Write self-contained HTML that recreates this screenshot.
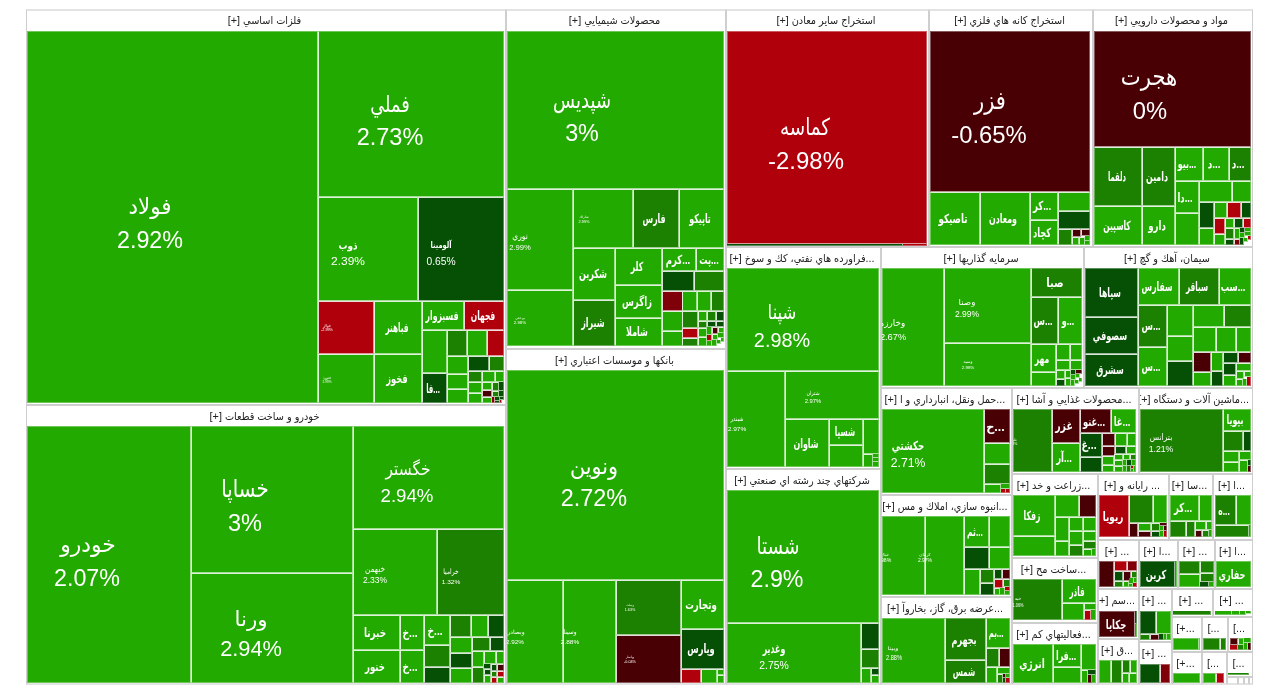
<!DOCTYPE html>
<html lang="fa"><head><meta charset="utf-8"><title>treemap</title>
<style>
html,body{margin:0;padding:0;background:#fff;}
body{width:1280px;height:699px;position:relative;overflow:hidden;font-family:"Liberation Sans","DejaVu Sans Condensed","DejaVu Sans",sans-serif;}
.s{position:absolute;box-sizing:border-box;border:1px solid #cecece;background:#fff;overflow:hidden;}
.h{position:absolute;left:0;right:0;top:0;height:20px;line-height:21px;padding-right:3px;font-size:10.8px;color:#222;text-align:center;white-space:nowrap;overflow:hidden;direction:rtl;}
.c{position:absolute;box-sizing:border-box;border:1px solid rgba(255,255,255,.86);border-right-color:rgba(255,255,255,.6);border-bottom-color:rgba(255,255,255,.6);}
.k{position:absolute;overflow:hidden;}
.t{position:absolute;color:#fff;white-space:nowrap;line-height:1;}
.t.b{font-weight:bold;}
</style></head><body>
<div class="s" style="left:26px;top:9px;width:480px;height:396px;border-top:2px solid #e3e3e3"><div class="h" style="top:-1px">فلزات اساسي [+]</div>
<div class="c" style="left:0px;top:20px;width:291px;height:372px;background:#22aa00;border-left-color:rgba(255,255,255,.35);border-top-color:rgba(255,255,255,.35);border-bottom-color:rgba(255,255,255,.35)"></div>
<div class="c" style="left:291px;top:20px;width:186px;height:166px;background:#22aa00;border-top-color:rgba(255,255,255,.35);border-right-color:rgba(255,255,255,.35)"></div>
<div class="c" style="left:291px;top:186px;width:100px;height:104px;background:#22aa00"></div>
<div class="c" style="left:391px;top:186px;width:86px;height:104px;background:#055005;border-right-color:rgba(255,255,255,.35)"></div>
<div class="c" style="left:291px;top:290px;width:56px;height:53px;background:#b0000c"></div>
<div class="c" style="left:347px;top:290px;width:48px;height:53px;background:#22aa00"></div>
<div class="c" style="left:291px;top:343px;width:56px;height:49px;background:#22aa00;border-bottom-color:rgba(255,255,255,.35)"></div>
<div class="c" style="left:347px;top:343px;width:48px;height:49px;background:#22aa00;border-bottom-color:rgba(255,255,255,.35)"></div>
<div class="c" style="left:395px;top:290px;width:42px;height:29px;background:#22aa00"></div>
<div class="c" style="left:437px;top:290px;width:40px;height:29px;background:#b0000c;border-right-color:rgba(255,255,255,.35)"></div>
<div class="c" style="left:395px;top:319px;width:25px;height:43px;background:#22aa00"></div>
<div class="c" style="left:395px;top:362px;width:25px;height:30px;background:#055005;border-bottom-color:rgba(255,255,255,.35)"></div>
<div class="c" style="left:420px;top:319px;width:20px;height:26px;background:#1c8000"></div>
<div class="c" style="left:440px;top:319px;width:20px;height:26px;background:#22aa00"></div>
<div class="c" style="left:460px;top:319px;width:17px;height:26px;background:#b0000c;border-right-color:rgba(255,255,255,.35)"></div>
<div class="c" style="left:420px;top:345px;width:21px;height:18px;background:#22aa00"></div>
<div class="c" style="left:441px;top:345px;width:21px;height:15px;background:#055005"></div>
<div class="c" style="left:462px;top:345px;width:15px;height:15px;background:#1c8000;border-right-color:rgba(255,255,255,.35)"></div>
<div class="c" style="left:420px;top:363px;width:21px;height:15px;background:#22aa00"></div>
<div class="c" style="left:420px;top:378px;width:21px;height:14px;background:#22aa00;border-bottom-color:rgba(255,255,255,.35)"></div>
<div class="c" style="left:441px;top:360px;width:14px;height:11px;background:#1c8000"></div>
<div class="c" style="left:455px;top:360px;width:13px;height:11px;background:#22aa00"></div>
<div class="c" style="left:468px;top:360px;width:9px;height:11px;background:#22aa00;border-right-color:rgba(255,255,255,.35)"></div>
<div class="c" style="left:441px;top:371px;width:14px;height:11px;background:#22aa00"></div>
<div class="c" style="left:441px;top:382px;width:14px;height:10px;background:#22aa00;border-bottom-color:rgba(255,255,255,.35)"></div>
<div class="c" style="left:455px;top:371px;width:10px;height:8px;background:#22aa00"></div>
<div class="c" style="left:465px;top:371px;width:7px;height:9px;background:#1c8000"></div>
<div class="c" style="left:472px;top:371px;width:5px;height:9px;background:#055005;border-width:0 1px 1px 0;border-right-color:rgba(255,255,255,.35)"></div>
<div class="c" style="left:455px;top:379px;width:10px;height:7px;background:#480004"></div>
<div class="c" style="left:465px;top:380px;width:7px;height:6px;background:#1c8000"></div>
<div class="c" style="left:472px;top:380px;width:5px;height:6px;background:#055005;border-width:0 1px 1px 0;border-right-color:rgba(255,255,255,.35)"></div>
<div class="c" style="left:455px;top:386px;width:10px;height:6px;background:#22aa00;border-bottom-color:rgba(255,255,255,.35)"></div>
<div class="c" style="left:465px;top:386px;width:3px;height:6px;background:#80000a;border-width:0 1px 1px 0;border-bottom-color:rgba(255,255,255,.35)"></div>
<div class="c" style="left:468px;top:386px;width:5px;height:4px;background:#055005;border-width:0 1px 1px 0"></div>
<div class="c" style="left:468px;top:390px;width:5px;height:2px;background:#055005;border-width:0 1px 1px 0;border-bottom-color:rgba(255,255,255,.35)"></div>
<div class="c" style="left:473px;top:386px;width:4px;height:3px;background:#055005;border-width:0 1px 1px 0;border-right-color:rgba(255,255,255,.35)"></div>
<div class="c" style="left:473px;top:389px;width:2px;height:3px;background:#b0000c;border-width:0 1px 1px 0;border-bottom-color:rgba(255,255,255,.35)"></div>
<span class="t" style="left:123.23px;top:230.18px;font-size:23.61px;transform:translate(-50%,-50%) scale(0.988,1.000)">2.92%</span>
<span class="t" style="left:123.47px;top:195.93px;font-size:23.47px;transform:translate(-50%,-50%) scale(1.012,0.943)">فولاد</span>
<span class="t" style="left:362.88px;top:126.45px;font-size:23.96px;transform:translate(-50%,-50%) scale(0.981,1.000)">2.73%</span>
<span class="t" style="left:362.85px;top:93.88px;font-size:23.68px;transform:translate(-50%,-50%) scale(0.833,0.969)">فملي</span>
<span class="t" style="left:320.83px;top:251.02px;font-size:11.46px;transform:translate(-50%,-50%) scale(1.043,1.000)">2.39%</span>
<span class="t b" style="left:320.90px;top:234.68px;font-size:11.59px;transform:translate(-50%,-50%) scale(0.859,0.947)">ذوب</span>
<span class="t" style="left:414.25px;top:250.53px;font-size:10.07px;transform:translate(-50%,-50%) scale(1.019,1.000)">0.65%</span>
<span class="t b" style="left:414.27px;top:234.20px;font-size:9.93px;transform:translate(-50%,-50%) scale(0.754,0.879)">آلومينا</span>
<span class="t" style="left:300.30px;top:320.02px;font-size:3.12px;transform:translate(-50%,-50%) scale(1.200,1.000)">-2.99%</span>
<span class="t" style="left:300.20px;top:314.60px;font-size:3.03px;transform:translate(-50%,-50%) scale(1.284,1.300)">فولاژ</span>
<span class="t b" style="left:369.50px;top:317.00px;font-size:12.5px;transform:translate(-50%,-50%) scale(0.650,1.000)">فباهنر</span>
<span class="t" style="left:300.03px;top:372.07px;font-size:3.16px;transform:translate(-50%,-50%) scale(1.006,1.000)">2.99%</span>
<span class="t" style="left:300.10px;top:366.70px;font-size:3px;transform:translate(-50%,-50%) scale(1.319,1.300)">فنورد</span>
<span class="t b" style="left:369.50px;top:368.00px;font-size:12.5px;transform:translate(-50%,-50%) scale(0.735,1.000)">فخوز</span>
<span class="t b" style="left:414.50px;top:304.75px;font-size:12.5px;transform:translate(-50%,-50%) scale(0.692,1.000)">فسبزوار</span>
<span class="t b" style="left:455.50px;top:304.75px;font-size:12.5px;transform:translate(-50%,-50%) scale(0.665,1.000)">فجهان</span>
<span class="t b" style="left:405.75px;top:377.50px;font-size:12.5px;transform:translate(-50%,-50%) scale(0.615,1.000)">فا...</span>
</div>
<div class="s" style="left:26px;top:405px;width:480px;height:280px;border-bottom:2px solid #e3e3e3"><div class="h">خودرو و ساخت قطعات [+]</div>
<div class="c" style="left:0px;top:20px;width:164px;height:257px;background:#22aa00;border-left-color:rgba(255,255,255,.35);border-top-color:rgba(255,255,255,.35);border-bottom-color:rgba(255,255,255,.35)"></div>
<div class="c" style="left:164px;top:20px;width:162px;height:147px;background:#22aa00;border-top-color:rgba(255,255,255,.35)"></div>
<div class="c" style="left:164px;top:167px;width:162px;height:110px;background:#22aa00;border-bottom-color:rgba(255,255,255,.35)"></div>
<div class="c" style="left:326px;top:20px;width:151px;height:103px;background:#22aa00;border-top-color:rgba(255,255,255,.35);border-right-color:rgba(255,255,255,.35)"></div>
<div class="c" style="left:326px;top:123px;width:84px;height:86px;background:#22aa00"></div>
<div class="c" style="left:410px;top:123px;width:67px;height:86px;background:#1c8000;border-right-color:rgba(255,255,255,.35)"></div>
<div class="c" style="left:326px;top:209px;width:47px;height:35px;background:#22aa00"></div>
<div class="c" style="left:326px;top:244px;width:47px;height:33px;background:#22aa00;border-bottom-color:rgba(255,255,255,.35)"></div>
<div class="c" style="left:373px;top:209px;width:24px;height:35px;background:#22aa00"></div>
<div class="c" style="left:373px;top:244px;width:24px;height:33px;background:#22aa00;border-bottom-color:rgba(255,255,255,.35)"></div>
<div class="c" style="left:397px;top:209px;width:26px;height:30px;background:#22aa00"></div>
<div class="c" style="left:397px;top:239px;width:26px;height:22px;background:#1c8000"></div>
<div class="c" style="left:397px;top:261px;width:26px;height:16px;background:#055005;border-bottom-color:rgba(255,255,255,.35)"></div>
<div class="c" style="left:423px;top:209px;width:21px;height:22px;background:#1c8000"></div>
<div class="c" style="left:444px;top:209px;width:17px;height:22px;background:#22aa00"></div>
<div class="c" style="left:461px;top:209px;width:16px;height:22px;background:#055005;border-right-color:rgba(255,255,255,.35)"></div>
<div class="c" style="left:423px;top:231px;width:22px;height:16px;background:#22aa00"></div>
<div class="c" style="left:445px;top:231px;width:18px;height:14px;background:#1c8000"></div>
<div class="c" style="left:463px;top:231px;width:14px;height:14px;background:#055005;border-right-color:rgba(255,255,255,.35)"></div>
<div class="c" style="left:423px;top:247px;width:22px;height:15px;background:#055005"></div>
<div class="c" style="left:423px;top:262px;width:22px;height:15px;background:#22aa00;border-bottom-color:rgba(255,255,255,.35)"></div>
<div class="c" style="left:445px;top:245px;width:12px;height:16px;background:#22aa00"></div>
<div class="c" style="left:457px;top:245px;width:12px;height:13px;background:#22aa00"></div>
<div class="c" style="left:469px;top:245px;width:8px;height:13px;background:#22aa00;border-right-color:rgba(255,255,255,.35)"></div>
<div class="c" style="left:445px;top:261px;width:12px;height:16px;background:#1c8000;border-bottom-color:rgba(255,255,255,.35)"></div>
<div class="c" style="left:457px;top:258px;width:7px;height:5px;background:#055005;border-width:0 1px 1px 0"></div>
<div class="c" style="left:464px;top:258px;width:6px;height:7px;background:#055005"></div>
<div class="c" style="left:470px;top:258px;width:7px;height:7px;background:#480004;border-right-color:rgba(255,255,255,.35)"></div>
<div class="c" style="left:457px;top:263px;width:7px;height:6px;background:#055005"></div>
<div class="c" style="left:464px;top:265px;width:6px;height:6px;background:#1c8000"></div>
<div class="c" style="left:470px;top:265px;width:7px;height:6px;background:#b0000c;border-right-color:rgba(255,255,255,.35)"></div>
<div class="c" style="left:457px;top:269px;width:7px;height:8px;background:#22aa00;border-bottom-color:rgba(255,255,255,.35)"></div>
<div class="c" style="left:464px;top:271px;width:6px;height:6px;background:#b0000c;border-bottom-color:rgba(255,255,255,.35)"></div>
<div class="c" style="left:470px;top:271px;width:7px;height:6px;background:#22aa00;border-right-color:rgba(255,255,255,.35);border-bottom-color:rgba(255,255,255,.35)"></div>
<span class="t" style="left:60.08px;top:173.08px;font-size:23.61px;transform:translate(-50%,-50%) scale(0.987,1.000)">2.07%</span>
<span class="t" style="left:60.90px;top:139.28px;font-size:23.47px;transform:translate(-50%,-50%) scale(1.032,0.939)">خودرو</span>
<span class="t" style="left:217.53px;top:118.08px;font-size:23.61px;transform:translate(-50%,-50%) scale(0.996,1.000)">3%</span>
<span class="t" style="left:217.55px;top:84.35px;font-size:23.47px;transform:translate(-50%,-50%) scale(0.936,1.030)">خساپا</span>
<span class="t" style="left:223.68px;top:244.32px;font-size:21.52px;transform:translate(-50%,-50%) scale(1.012,1.000)">2.94%</span>
<span class="t" style="left:223.80px;top:212.52px;font-size:21.66px;transform:translate(-50%,-50%) scale(1.095,0.952)">ورنا</span>
<span class="t" style="left:379.78px;top:91.08px;font-size:17.7px;transform:translate(-50%,-50%) scale(1.056,1.000)">2.94%</span>
<span class="t" style="left:380.68px;top:64.35px;font-size:17.91px;transform:translate(-50%,-50%) scale(0.953,0.994)">خگستر</span>
<span class="t" style="left:347.95px;top:175.27px;font-size:9.05px;transform:translate(-50%,-50%) scale(0.940,1.000)">2.33%</span>
<span class="t" style="left:347.92px;top:162.57px;font-size:8.76px;transform:translate(-50%,-50%) scale(0.922,1.096)">خبهمن</span>
<span class="t" style="left:424.23px;top:175.90px;font-size:6.25px;transform:translate(-50%,-50%) scale(1.055,1.000)">1.32%</span>
<span class="t" style="left:424.10px;top:165.78px;font-size:6.31px;transform:translate(-50%,-50%) scale(1.050,1.205)">خراميا</span>
<span class="t b" style="left:347.75px;top:227.00px;font-size:12.5px;transform:translate(-50%,-50%) scale(0.787,1.000)">خبرنا</span>
<span class="t b" style="left:347.75px;top:261.00px;font-size:12.5px;transform:translate(-50%,-50%) scale(0.758,1.000)">خنور</span>
<span class="t b" style="left:383.00px;top:227.00px;font-size:12.5px;transform:translate(-50%,-50%) scale(0.811,1.000)">خ...</span>
<span class="t b" style="left:383.00px;top:261.00px;font-size:12.5px;transform:translate(-50%,-50%) scale(0.811,1.000)">خ...</span>
<span class="t b" style="left:408.25px;top:224.50px;font-size:12.5px;transform:translate(-50%,-50%) scale(0.811,1.000)">خ...</span>
</div>
<div class="s" style="left:506px;top:9px;width:220px;height:340px;border-top:2px solid #e3e3e3"><div class="h" style="top:-1px">محصولات شيميايي [+]</div>
<div class="c" style="left:0px;top:20px;width:217px;height:158px;background:#22aa00;border-left-color:rgba(255,255,255,.35);border-top-color:rgba(255,255,255,.35);border-right-color:rgba(255,255,255,.35)"></div>
<div class="c" style="left:0px;top:178px;width:66px;height:101px;background:#22aa00;border-left-color:rgba(255,255,255,.35)"></div>
<div class="c" style="left:0px;top:279px;width:66px;height:56px;background:#22aa00;border-left-color:rgba(255,255,255,.35);border-bottom-color:rgba(255,255,255,.35)"></div>
<div class="c" style="left:66px;top:178px;width:60px;height:59px;background:#22aa00"></div>
<div class="c" style="left:126px;top:178px;width:46px;height:59px;background:#1c8000"></div>
<div class="c" style="left:172px;top:178px;width:45px;height:59px;background:#22aa00;border-right-color:rgba(255,255,255,.35)"></div>
<div class="c" style="left:66px;top:237px;width:42px;height:52px;background:#22aa00"></div>
<div class="c" style="left:66px;top:289px;width:42px;height:46px;background:#1c8000;border-bottom-color:rgba(255,255,255,.35)"></div>
<div class="c" style="left:108px;top:237px;width:47px;height:37px;background:#22aa00"></div>
<div class="c" style="left:108px;top:274px;width:47px;height:33px;background:#22aa00"></div>
<div class="c" style="left:108px;top:307px;width:47px;height:28px;background:#22aa00;border-bottom-color:rgba(255,255,255,.35)"></div>
<div class="c" style="left:155px;top:237px;width:34px;height:23px;background:#22aa00"></div>
<div class="c" style="left:189px;top:237px;width:28px;height:23px;background:#22aa00;border-right-color:rgba(255,255,255,.35)"></div>
<div class="c" style="left:155px;top:260px;width:32px;height:20px;background:#055005"></div>
<div class="c" style="left:187px;top:260px;width:30px;height:20px;background:#1c8000;border-right-color:rgba(255,255,255,.35)"></div>
<div class="c" style="left:155px;top:280px;width:21px;height:20px;background:#80000a"></div>
<div class="c" style="left:175px;top:280px;width:15px;height:20px;background:#22aa00"></div>
<div class="c" style="left:190px;top:280px;width:14px;height:20px;background:#22aa00"></div>
<div class="c" style="left:204px;top:280px;width:13px;height:20px;background:#1c8000;border-right-color:rgba(255,255,255,.35)"></div>
<div class="c" style="left:155px;top:300px;width:21px;height:20px;background:#22aa00"></div>
<div class="c" style="left:155px;top:320px;width:21px;height:15px;background:#22aa00;border-bottom-color:rgba(255,255,255,.35)"></div>
<div class="c" style="left:175px;top:300px;width:16px;height:17px;background:#1c8000"></div>
<div class="c" style="left:175px;top:317px;width:16px;height:10px;background:#b0000c"></div>
<div class="c" style="left:175px;top:327px;width:16px;height:8px;background:#1c8000;border-bottom-color:rgba(255,255,255,.35)"></div>
<div class="c" style="left:191px;top:300px;width:9px;height:10px;background:#22aa00"></div>
<div class="c" style="left:200px;top:300px;width:9px;height:10px;background:#1c8000"></div>
<div class="c" style="left:209px;top:300px;width:8px;height:10px;background:#055005;border-right-color:rgba(255,255,255,.35)"></div>
<div class="c" style="left:191px;top:310px;width:9px;height:7px;background:#1c8000"></div>
<div class="c" style="left:200px;top:310px;width:9px;height:6px;background:#055005"></div>
<div class="c" style="left:209px;top:310px;width:8px;height:6px;background:#055005;border-right-color:rgba(255,255,255,.35)"></div>
<div class="c" style="left:191px;top:317px;width:9px;height:9px;background:#22aa00"></div>
<div class="c" style="left:200px;top:316px;width:5px;height:8px;background:#22aa00;border-width:0 1px 1px 0"></div>
<div class="c" style="left:205px;top:316px;width:6px;height:7px;background:#480004"></div>
<div class="c" style="left:211px;top:316px;width:6px;height:6px;background:#22aa00;border-right-color:rgba(255,255,255,.35)"></div>
<div class="c" style="left:191px;top:326px;width:9px;height:9px;background:#22aa00;border-bottom-color:rgba(255,255,255,.35)"></div>
<div class="c" style="left:200px;top:324px;width:5px;height:6px;background:#b0000c;border-width:0 1px 1px 0"></div>
<div class="c" style="left:205px;top:323px;width:6px;height:6px;background:#22aa00"></div>
<div class="c" style="left:211px;top:322px;width:6px;height:5px;background:#22aa00;border-width:0 1px 1px 0;border-right-color:rgba(255,255,255,.35)"></div>
<div class="c" style="left:200px;top:330px;width:5px;height:5px;background:#22aa00;border-width:0 1px 1px 0;border-bottom-color:rgba(255,255,255,.35)"></div>
<div class="c" style="left:205px;top:329px;width:5px;height:6px;background:#22aa00;border-width:0 1px 1px 0;border-bottom-color:rgba(255,255,255,.35)"></div>
<div class="c" style="left:210px;top:329px;width:4px;height:4px;background:#22aa00;border-width:0 1px 1px 0"></div>
<div class="c" style="left:214px;top:327px;width:3px;height:4px;background:#22aa00;border-width:0 1px 1px 0;border-right-color:rgba(255,255,255,.35)"></div>
<span class="t" style="left:75.30px;top:123.08px;font-size:23.61px;transform:translate(-50%,-50%) scale(0.988,1.000)">3%</span>
<span class="t" style="left:74.75px;top:89.65px;font-size:23.47px;transform:translate(-50%,-50%) scale(0.853,0.997)">شپديس</span>
<span class="t" style="left:13.45px;top:237.43px;font-size:7.63px;transform:translate(-50%,-50%) scale(0.996,1.000)">2.99%</span>
<span class="t" style="left:13.40px;top:226.10px;font-size:7.69px;transform:translate(-50%,-50%) scale(1.090,1.119)">نوري</span>
<span class="t" style="left:13.05px;top:313.28px;font-size:3.85px;transform:translate(-50%,-50%) scale(1.146,1.000)">2.98%</span>
<span class="t" style="left:13.00px;top:307.65px;font-size:3.69px;transform:translate(-50%,-50%) scale(1.177,0.750)">بوعلي</span>
<span class="t" style="left:76.78px;top:211.50px;font-size:3.48px;transform:translate(-50%,-50%) scale(1.120,1.000)">2.99%</span>
<span class="t" style="left:77.27px;top:206.52px;font-size:3.48px;transform:translate(-50%,-50%) scale(1.083,0.973)">شاراك</span>
<span class="t b" style="left:147.00px;top:207.50px;font-size:12.5px;transform:translate(-50%,-50%) scale(0.684,1.000)">فارس</span>
<span class="t b" style="left:192.75px;top:207.50px;font-size:12.5px;transform:translate(-50%,-50%) scale(0.700,1.000)">تاپيكو</span>
<span class="t b" style="left:85.50px;top:263.00px;font-size:12.5px;transform:translate(-50%,-50%) scale(0.720,1.000)">شكربن</span>
<span class="t b" style="left:85.50px;top:312.25px;font-size:12.5px;transform:translate(-50%,-50%) scale(0.715,1.000)">شيراز</span>
<span class="t b" style="left:130.00px;top:255.75px;font-size:12.5px;transform:translate(-50%,-50%) scale(0.684,1.000)">كلر</span>
<span class="t b" style="left:130.00px;top:290.75px;font-size:12.5px;transform:translate(-50%,-50%) scale(0.766,1.000)">زاگرس</span>
<span class="t b" style="left:130.00px;top:321.25px;font-size:12.5px;transform:translate(-50%,-50%) scale(0.707,1.000)">شاملا</span>
<span class="t b" style="left:170.50px;top:248.75px;font-size:12.5px;transform:translate(-50%,-50%) scale(0.757,1.000)">كرم...</span>
<span class="t b" style="left:201.50px;top:248.75px;font-size:12.5px;transform:translate(-50%,-50%) scale(0.728,1.000)">پت...</span>
</div>
<div class="s" style="left:506px;top:349px;width:220px;height:336px;border-bottom:2px solid #e3e3e3"><div class="h">بانكها و موسسات اعتباري [+]</div>
<div class="c" style="left:0px;top:20px;width:217px;height:210px;background:#22aa00;border-left-color:rgba(255,255,255,.35);border-top-color:rgba(255,255,255,.35);border-right-color:rgba(255,255,255,.35)"></div>
<div class="c" style="left:0px;top:230px;width:56px;height:103px;background:#22aa00;border-left-color:rgba(255,255,255,.35);border-bottom-color:rgba(255,255,255,.35)"></div>
<div class="c" style="left:56px;top:230px;width:53px;height:103px;background:#22aa00;border-bottom-color:rgba(255,255,255,.35)"></div>
<div class="c" style="left:109px;top:230px;width:65px;height:55px;background:#1c8000"></div>
<div class="c" style="left:109px;top:285px;width:65px;height:48px;background:#480004;border-bottom-color:rgba(255,255,255,.35)"></div>
<div class="c" style="left:174px;top:230px;width:43px;height:49px;background:#22aa00;border-right-color:rgba(255,255,255,.35)"></div>
<div class="c" style="left:174px;top:279px;width:43px;height:40px;background:#055005;border-right-color:rgba(255,255,255,.35)"></div>
<div class="c" style="left:174px;top:319px;width:20px;height:14px;background:#b0000c;border-bottom-color:rgba(255,255,255,.35)"></div>
<div class="c" style="left:194px;top:319px;width:16px;height:14px;background:#22aa00;border-bottom-color:rgba(255,255,255,.35)"></div>
<div class="c" style="left:210px;top:319px;width:7px;height:6px;background:#22aa00;border-right-color:rgba(255,255,255,.35)"></div>
<div class="c" style="left:210px;top:325px;width:7px;height:8px;background:#22aa00;border-right-color:rgba(255,255,255,.35);border-bottom-color:rgba(255,255,255,.35)"></div>
<span class="t" style="left:87.10px;top:148.68px;font-size:23.61px;transform:translate(-50%,-50%) scale(0.992,1.000)">2.72%</span>
<span class="t" style="left:87.20px;top:116.50px;font-size:23.47px;transform:translate(-50%,-50%) scale(0.984,0.960)">ونوين</span>
<span class="t" style="left:8.40px;top:291.75px;font-size:6.25px;transform:translate(-50%,-50%) scale(1.013,1.000)">2.92%</span>
<span class="t" style="left:8.68px;top:281.78px;font-size:6.04px;transform:translate(-50%,-50%) scale(1.108,0.936)">وبصادر</span>
<span class="t" style="left:63.45px;top:291.75px;font-size:6.25px;transform:translate(-50%,-50%) scale(1.042,1.000)">2.88%</span>
<span class="t" style="left:63.25px;top:281.85px;font-size:6.04px;transform:translate(-50%,-50%) scale(1.072,1.112)">وسينا</span>
<span class="t" style="left:122.53px;top:261.02px;font-size:3.12px;transform:translate(-50%,-50%) scale(1.200,1.000)">1.63%</span>
<span class="t" style="left:123.05px;top:255.90px;font-size:3.03px;transform:translate(-50%,-50%) scale(1.063,0.955)">وبملت</span>
<span class="t" style="left:122.80px;top:313.22px;font-size:3.12px;transform:translate(-50%,-50%) scale(1.200,1.000)">-0.04%</span>
<span class="t" style="left:123.17px;top:307.83px;font-size:3.25px;transform:translate(-50%,-50%) scale(1.035,1.017)">وپاسار</span>
<span class="t b" style="left:194.00px;top:254.50px;font-size:12.5px;transform:translate(-50%,-50%) scale(0.765,1.000)">وتجارت</span>
<span class="t b" style="left:194.00px;top:299.00px;font-size:12.5px;transform:translate(-50%,-50%) scale(0.735,1.000)">وپارس</span>
</div>
<div class="s" style="left:726px;top:9px;width:203px;height:238px;border-top:2px solid #e3e3e3"><div class="h" style="top:-1px">استخراج ساير معادن [+]</div>
<div class="c" style="left:0px;top:20px;width:200px;height:213px;background:#b0000c;border-left-color:rgba(255,255,255,.35);border-top-color:rgba(255,255,255,.35);border-right-color:rgba(255,255,255,.35)"></div>
<div class="c" style="left:0px;top:233px;width:176px;height:2px;background:#055005;border-width:0 1px 1px 0;border-left-color:rgba(255,255,255,.35);border-bottom-color:rgba(255,255,255,.35)"></div>
<div class="c" style="left:176px;top:233px;width:24px;height:2px;background:#b0000c;border-width:0 1px 1px 0;border-right-color:rgba(255,255,255,.35);border-bottom-color:rgba(255,255,255,.35)"></div>
<span class="t" style="left:78.90px;top:150.78px;font-size:23.61px;transform:translate(-50%,-50%) scale(1.014,1.000)">-2.98%</span>
<span class="t" style="left:78.18px;top:116.95px;font-size:23.47px;transform:translate(-50%,-50%) scale(0.869,1.001)">كماسه</span>
</div>
<div class="s" style="left:929px;top:9px;width:164px;height:238px;border-top:2px solid #e3e3e3"><div class="h" style="top:-1px">استخراج كانه هاي فلزي [+]</div>
<div class="c" style="left:0px;top:20px;width:160px;height:161px;background:#480004;border-left-color:rgba(255,255,255,.35);border-top-color:rgba(255,255,255,.35);border-right-color:rgba(255,255,255,.35)"></div>
<div class="c" style="left:0px;top:181px;width:50px;height:53px;background:#22aa00;border-left-color:rgba(255,255,255,.35);border-bottom-color:rgba(255,255,255,.35)"></div>
<div class="c" style="left:50px;top:181px;width:50px;height:53px;background:#22aa00;border-bottom-color:rgba(255,255,255,.35)"></div>
<div class="c" style="left:100px;top:181px;width:28px;height:28px;background:#22aa00"></div>
<div class="c" style="left:100px;top:209px;width:28px;height:25px;background:#22aa00;border-bottom-color:rgba(255,255,255,.35)"></div>
<div class="c" style="left:128px;top:181px;width:32px;height:19px;background:#22aa00;border-right-color:rgba(255,255,255,.35)"></div>
<div class="c" style="left:128px;top:200px;width:32px;height:18px;background:#055005;border-right-color:rgba(255,255,255,.35)"></div>
<div class="c" style="left:128px;top:218px;width:14px;height:16px;background:#1c8000;border-bottom-color:rgba(255,255,255,.35)"></div>
<div class="c" style="left:142px;top:218px;width:9px;height:8px;background:#480004"></div>
<div class="c" style="left:151px;top:218px;width:9px;height:7px;background:#480004;border-right-color:rgba(255,255,255,.35)"></div>
<div class="c" style="left:142px;top:226px;width:7px;height:8px;background:#22aa00;border-bottom-color:rgba(255,255,255,.35)"></div>
<div class="c" style="left:149px;top:226px;width:6px;height:8px;background:#22aa00;border-bottom-color:rgba(255,255,255,.35)"></div>
<div class="c" style="left:155px;top:225px;width:5px;height:5px;background:#22aa00;border-width:0 1px 1px 0;border-right-color:rgba(255,255,255,.35)"></div>
<div class="c" style="left:155px;top:230px;width:5px;height:4px;background:#22aa00;border-width:0 1px 1px 0;border-right-color:rgba(255,255,255,.35);border-bottom-color:rgba(255,255,255,.35)"></div>
<span class="t" style="left:58.88px;top:123.67px;font-size:24.3px;transform:translate(-50%,-50%) scale(0.980,1.000)">-0.65%</span>
<span class="t" style="left:60.42px;top:89.63px;font-size:24.16px;transform:translate(-50%,-50%) scale(0.969,1.025)">فزر</span>
<span class="t b" style="left:23.25px;top:208.00px;font-size:12.5px;transform:translate(-50%,-50%) scale(0.775,1.000)">تاصيكو</span>
<span class="t b" style="left:73.00px;top:208.00px;font-size:12.5px;transform:translate(-50%,-50%) scale(0.700,1.000)">ومعادن</span>
<span class="t b" style="left:112.00px;top:195.25px;font-size:12.5px;transform:translate(-50%,-50%) scale(0.756,1.000)">كر...</span>
<span class="t b" style="left:112.00px;top:221.75px;font-size:12.5px;transform:translate(-50%,-50%) scale(0.733,1.000)">كچاد</span>
</div>
<div class="s" style="left:1093px;top:9px;width:160px;height:238px;border-top:2px solid #e3e3e3"><div class="h" style="top:-1px">مواد و محصولات دارويي [+]</div>
<div class="c" style="left:0px;top:20px;width:157px;height:116px;background:#480004;border-left-color:rgba(255,255,255,.35);border-top-color:rgba(255,255,255,.35);border-right-color:rgba(255,255,255,.35)"></div>
<div class="c" style="left:0px;top:136px;width:48px;height:59px;background:#1c8000;border-left-color:rgba(255,255,255,.35)"></div>
<div class="c" style="left:0px;top:195px;width:48px;height:39px;background:#22aa00;border-left-color:rgba(255,255,255,.35);border-bottom-color:rgba(255,255,255,.35)"></div>
<div class="c" style="left:48px;top:136px;width:33px;height:59px;background:#1c8000"></div>
<div class="c" style="left:48px;top:195px;width:33px;height:39px;background:#22aa00;border-bottom-color:rgba(255,255,255,.35)"></div>
<div class="c" style="left:81px;top:136px;width:28px;height:34px;background:#22aa00"></div>
<div class="c" style="left:109px;top:136px;width:26px;height:34px;background:#22aa00"></div>
<div class="c" style="left:135px;top:136px;width:22px;height:34px;background:#1c8000;border-right-color:rgba(255,255,255,.35)"></div>
<div class="c" style="left:81px;top:170px;width:24px;height:32px;background:#22aa00"></div>
<div class="c" style="left:81px;top:202px;width:24px;height:32px;background:#22aa00;border-bottom-color:rgba(255,255,255,.35)"></div>
<div class="c" style="left:105px;top:170px;width:33px;height:21px;background:#22aa00"></div>
<div class="c" style="left:138px;top:170px;width:19px;height:21px;background:#22aa00;border-right-color:rgba(255,255,255,.35)"></div>
<div class="c" style="left:105px;top:191px;width:15px;height:26px;background:#055005"></div>
<div class="c" style="left:105px;top:217px;width:15px;height:17px;background:#22aa00;border-bottom-color:rgba(255,255,255,.35)"></div>
<div class="c" style="left:120px;top:191px;width:13px;height:16px;background:#22aa00"></div>
<div class="c" style="left:133px;top:191px;width:14px;height:16px;background:#b0000c"></div>
<div class="c" style="left:147px;top:191px;width:10px;height:16px;background:#055005;border-right-color:rgba(255,255,255,.35)"></div>
<div class="c" style="left:120px;top:207px;width:11px;height:16px;background:#b0000c"></div>
<div class="c" style="left:120px;top:223px;width:11px;height:11px;background:#22aa00;border-bottom-color:rgba(255,255,255,.35)"></div>
<div class="c" style="left:131px;top:207px;width:9px;height:10px;background:#22aa00"></div>
<div class="c" style="left:140px;top:207px;width:9px;height:10px;background:#055005"></div>
<div class="c" style="left:149px;top:207px;width:8px;height:10px;background:#b0000c;border-right-color:rgba(255,255,255,.35)"></div>
<div class="c" style="left:131px;top:217px;width:9px;height:11px;background:#1c8000"></div>
<div class="c" style="left:140px;top:217px;width:6px;height:11px;background:#22aa00"></div>
<div class="c" style="left:131px;top:228px;width:9px;height:6px;background:#055005;border-bottom-color:rgba(255,255,255,.35)"></div>
<div class="c" style="left:140px;top:228px;width:6px;height:6px;background:#80000a;border-bottom-color:rgba(255,255,255,.35)"></div>
<div class="c" style="left:146px;top:217px;width:5px;height:5px;background:#055005;border-width:0 1px 1px 0"></div>
<div class="c" style="left:151px;top:217px;width:6px;height:4px;background:#22aa00;border-width:0 1px 1px 0;border-right-color:rgba(255,255,255,.35)"></div>
<div class="c" style="left:146px;top:222px;width:5px;height:5px;background:#22aa00;border-width:0 1px 1px 0"></div>
<div class="c" style="left:151px;top:221px;width:6px;height:4px;background:#22aa00;border-width:0 1px 1px 0;border-right-color:rgba(255,255,255,.35)"></div>
<div class="c" style="left:146px;top:227px;width:4px;height:7px;background:#055005;border-width:0 1px 1px 0;border-bottom-color:rgba(255,255,255,.35)"></div>
<div class="c" style="left:150px;top:227px;width:4px;height:4px;background:#22aa00;border-width:0 1px 1px 0"></div>
<div class="c" style="left:154px;top:225px;width:3px;height:4px;background:#b0000c;border-width:0 1px 1px 0;border-right-color:rgba(255,255,255,.35)"></div>
<span class="t" style="left:55.55px;top:100.80px;font-size:23.26px;transform:translate(-50%,-50%) scale(1.021,1.000)">0%</span>
<span class="t" style="left:55.08px;top:67.43px;font-size:23.54px;transform:translate(-50%,-50%) scale(0.998,1.031)">هجرت</span>
<span class="t b" style="left:22.50px;top:165.50px;font-size:12.5px;transform:translate(-50%,-50%) scale(0.603,1.000)">دلقما</span>
<span class="t b" style="left:22.50px;top:214.75px;font-size:12.5px;transform:translate(-50%,-50%) scale(0.663,1.000)">كاسپين</span>
<span class="t b" style="left:62.75px;top:165.75px;font-size:12.5px;transform:translate(-50%,-50%) scale(0.700,1.000)">دامين</span>
<span class="t b" style="left:62.75px;top:215.00px;font-size:12.5px;transform:translate(-50%,-50%) scale(0.760,1.000)">دارو</span>
<span class="t b" style="left:93.00px;top:153.25px;font-size:12.5px;transform:translate(-50%,-50%) scale(0.698,1.000)">بيو...</span>
<span class="t b" style="left:120.00px;top:153.25px;font-size:12.5px;transform:translate(-50%,-50%) scale(0.785,1.000)">د...</span>
<span class="t b" style="left:144.25px;top:153.25px;font-size:12.5px;transform:translate(-50%,-50%) scale(0.785,1.000)">د...</span>
<span class="t b" style="left:91.00px;top:186.50px;font-size:12.5px;transform:translate(-50%,-50%) scale(0.753,1.000)">دا...</span>
</div>
<div class="s" style="left:726px;top:247px;width:155px;height:222px"><div class="h">...فراورده هاي نفتي، كك و سوخ [+]</div>
<div class="c" style="left:0px;top:20px;width:152px;height:103px;background:#22aa00;border-left-color:rgba(255,255,255,.35);border-top-color:rgba(255,255,255,.35);border-right-color:rgba(255,255,255,.35)"></div>
<div class="c" style="left:0px;top:123px;width:58px;height:96px;background:#22aa00;border-left-color:rgba(255,255,255,.35);border-bottom-color:rgba(255,255,255,.35)"></div>
<div class="c" style="left:58px;top:123px;width:94px;height:48px;background:#22aa00;border-right-color:rgba(255,255,255,.35)"></div>
<div class="c" style="left:58px;top:171px;width:44px;height:48px;background:#22aa00;border-bottom-color:rgba(255,255,255,.35)"></div>
<div class="c" style="left:102px;top:171px;width:34px;height:26px;background:#22aa00"></div>
<div class="c" style="left:102px;top:197px;width:34px;height:22px;background:#22aa00;border-bottom-color:rgba(255,255,255,.35)"></div>
<div class="c" style="left:136px;top:171px;width:16px;height:35px;background:#22aa00;border-right-color:rgba(255,255,255,.35)"></div>
<div class="c" style="left:136px;top:206px;width:10px;height:13px;background:#22aa00;border-bottom-color:rgba(255,255,255,.35)"></div>
<div class="c" style="left:146px;top:206px;width:6px;height:4px;background:#22aa00;border-width:0 1px 1px 0;border-right-color:rgba(255,255,255,.35)"></div>
<div class="c" style="left:146px;top:210px;width:6px;height:4px;background:#22aa00;border-width:0 1px 1px 0;border-right-color:rgba(255,255,255,.35)"></div>
<div class="c" style="left:146px;top:214px;width:6px;height:5px;background:#22aa00;border-width:0 1px 1px 0;border-right-color:rgba(255,255,255,.35);border-bottom-color:rgba(255,255,255,.35)"></div>
<span class="t" style="left:54.83px;top:93.35px;font-size:19.79px;transform:translate(-50%,-50%) scale(1.003,1.000)">2.98%</span>
<span class="t" style="left:54.83px;top:65.38px;font-size:19.72px;transform:translate(-50%,-50%) scale(0.930,1.013)">شپنا</span>
<span class="t" style="left:9.55px;top:181.77px;font-size:5.88px;transform:translate(-50%,-50%) scale(1.117,1.000)">2.97%</span>
<span class="t" style="left:10.25px;top:171.07px;font-size:6.09px;transform:translate(-50%,-50%) scale(0.979,1.065)">شبندر</span>
<span class="t" style="left:85.50px;top:154.38px;font-size:5.18px;transform:translate(-50%,-50%) scale(1.132,1.000)">2.97%</span>
<span class="t" style="left:85.55px;top:146.40px;font-size:5.39px;transform:translate(-50%,-50%) scale(1.012,1.019)">شتران</span>
<span class="t b" style="left:78.50px;top:195.50px;font-size:12.5px;transform:translate(-50%,-50%) scale(0.705,1.000)">شاوان</span>
<span class="t b" style="left:117.50px;top:184.25px;font-size:12.5px;transform:translate(-50%,-50%) scale(0.647,1.000)">شسپا</span>
</div>
<div class="s" style="left:881px;top:247px;width:203px;height:141px"><div class="h">سرمايه گذاريها [+]</div>
<div class="c" style="left:0px;top:20px;width:62px;height:118px;background:#22aa00;border-left-color:rgba(255,255,255,.35);border-top-color:rgba(255,255,255,.35);border-bottom-color:rgba(255,255,255,.35)"></div>
<div class="c" style="left:62px;top:20px;width:87px;height:75px;background:#22aa00;border-top-color:rgba(255,255,255,.35)"></div>
<div class="c" style="left:62px;top:95px;width:87px;height:43px;background:#22aa00;border-bottom-color:rgba(255,255,255,.35)"></div>
<div class="c" style="left:149px;top:20px;width:51px;height:29px;background:#1c8000;border-top-color:rgba(255,255,255,.35);border-right-color:rgba(255,255,255,.35)"></div>
<div class="c" style="left:149px;top:49px;width:27px;height:47px;background:#1c8000"></div>
<div class="c" style="left:176px;top:49px;width:24px;height:47px;background:#22aa00;border-right-color:rgba(255,255,255,.35)"></div>
<div class="c" style="left:149px;top:96px;width:25px;height:28px;background:#22aa00"></div>
<div class="c" style="left:149px;top:124px;width:25px;height:14px;background:#22aa00;border-bottom-color:rgba(255,255,255,.35)"></div>
<div class="c" style="left:174px;top:96px;width:14px;height:16px;background:#22aa00"></div>
<div class="c" style="left:188px;top:96px;width:12px;height:16px;background:#22aa00;border-right-color:rgba(255,255,255,.35)"></div>
<div class="c" style="left:174px;top:112px;width:14px;height:10px;background:#22aa00"></div>
<div class="c" style="left:188px;top:112px;width:12px;height:10px;background:#22aa00;border-right-color:rgba(255,255,255,.35)"></div>
<div class="c" style="left:174px;top:122px;width:9px;height:9px;background:#22aa00"></div>
<div class="c" style="left:174px;top:131px;width:9px;height:7px;background:#055005;border-bottom-color:rgba(255,255,255,.35)"></div>
<div class="c" style="left:183px;top:122px;width:6px;height:8px;background:#22aa00"></div>
<div class="c" style="left:183px;top:130px;width:6px;height:8px;background:#22aa00;border-bottom-color:rgba(255,255,255,.35)"></div>
<div class="c" style="left:189px;top:122px;width:5px;height:5px;background:#055005;border-width:0 1px 1px 0"></div>
<div class="c" style="left:194px;top:122px;width:6px;height:4px;background:#480004;border-width:0 1px 1px 0;border-right-color:rgba(255,255,255,.35)"></div>
<div class="c" style="left:189px;top:127px;width:5px;height:5px;background:#22aa00;border-width:0 1px 1px 0"></div>
<div class="c" style="left:194px;top:126px;width:4px;height:4px;background:#22aa00;border-width:0 1px 1px 0"></div>
<div class="c" style="left:189px;top:132px;width:4px;height:6px;background:#22aa00;border-width:0 1px 1px 0;border-bottom-color:rgba(255,255,255,.35)"></div>
<div class="c" style="left:193px;top:132px;width:4px;height:4px;background:#22aa00;border-width:0 1px 1px 0"></div>
<div class="c" style="left:197px;top:130px;width:3px;height:4px;background:#22aa00;border-width:0 1px 1px 0;border-right-color:rgba(255,255,255,.35)"></div>
<span class="t" style="left:10.95px;top:90.27px;font-size:9.05px;transform:translate(-50%,-50%) scale(1.021,1.000)">2.67%</span>
<span class="t" style="left:10.35px;top:75.32px;font-size:8.76px;transform:translate(-50%,-50%) scale(1.117,0.990)">وخارزم</span>
<span class="t" style="left:85.25px;top:65.92px;font-size:8.33px;transform:translate(-50%,-50%) scale(1.019,1.000)">2.99%</span>
<span class="t" style="left:85.48px;top:53.93px;font-size:8.39px;transform:translate(-50%,-50%) scale(1.149,0.969)">وصنا</span>
<span class="t" style="left:85.83px;top:121.43px;font-size:3.82px;transform:translate(-50%,-50%) scale(1.173,1.000)">2.98%</span>
<span class="t" style="left:85.70px;top:113.67px;font-size:3.95px;transform:translate(-50%,-50%) scale(1.146,1.106)">وسپه</span>
<span class="t b" style="left:172.75px;top:34.75px;font-size:12.5px;transform:translate(-50%,-50%) scale(0.884,1.000)">صبا</span>
<span class="t b" style="left:160.50px;top:72.75px;font-size:12.5px;transform:translate(-50%,-50%) scale(0.735,1.000)">س...</span>
<span class="t b" style="left:186.25px;top:72.75px;font-size:12.5px;transform:translate(-50%,-50%) scale(0.709,1.000)">و...</span>
<span class="t b" style="left:159.50px;top:110.50px;font-size:12.5px;transform:translate(-50%,-50%) scale(0.680,1.000)">مهر</span>
</div>
<div class="s" style="left:1084px;top:247px;width:169px;height:141px"><div class="h">سيمان، آهك و گچ [+]</div>
<div class="c" style="left:0px;top:20px;width:53px;height:49px;background:#055005;border-left-color:rgba(255,255,255,.35);border-top-color:rgba(255,255,255,.35)"></div>
<div class="c" style="left:0px;top:69px;width:53px;height:37px;background:#055005;border-left-color:rgba(255,255,255,.35)"></div>
<div class="c" style="left:0px;top:106px;width:53px;height:32px;background:#055005;border-left-color:rgba(255,255,255,.35);border-bottom-color:rgba(255,255,255,.35)"></div>
<div class="c" style="left:53px;top:20px;width:41px;height:37px;background:#22aa00;border-top-color:rgba(255,255,255,.35)"></div>
<div class="c" style="left:94px;top:20px;width:40px;height:37px;background:#1c8000;border-top-color:rgba(255,255,255,.35)"></div>
<div class="c" style="left:134px;top:20px;width:32px;height:37px;background:#22aa00;border-top-color:rgba(255,255,255,.35);border-right-color:rgba(255,255,255,.35)"></div>
<div class="c" style="left:53px;top:57px;width:29px;height:42px;background:#1c8000"></div>
<div class="c" style="left:53px;top:99px;width:29px;height:39px;background:#22aa00;border-bottom-color:rgba(255,255,255,.35)"></div>
<div class="c" style="left:82px;top:57px;width:26px;height:31px;background:#22aa00"></div>
<div class="c" style="left:82px;top:88px;width:26px;height:25px;background:#22aa00"></div>
<div class="c" style="left:82px;top:113px;width:26px;height:25px;background:#055005;border-bottom-color:rgba(255,255,255,.35)"></div>
<div class="c" style="left:108px;top:57px;width:31px;height:22px;background:#22aa00"></div>
<div class="c" style="left:139px;top:57px;width:27px;height:22px;background:#1c8000;border-right-color:rgba(255,255,255,.35)"></div>
<div class="c" style="left:108px;top:79px;width:23px;height:25px;background:#22aa00"></div>
<div class="c" style="left:131px;top:79px;width:20px;height:25px;background:#22aa00"></div>
<div class="c" style="left:151px;top:79px;width:15px;height:25px;background:#22aa00;border-right-color:rgba(255,255,255,.35)"></div>
<div class="c" style="left:108px;top:104px;width:18px;height:20px;background:#480004"></div>
<div class="c" style="left:108px;top:124px;width:18px;height:14px;background:#22aa00;border-bottom-color:rgba(255,255,255,.35)"></div>
<div class="c" style="left:126px;top:104px;width:12px;height:19px;background:#22aa00"></div>
<div class="c" style="left:126px;top:123px;width:12px;height:15px;background:#055005;border-bottom-color:rgba(255,255,255,.35)"></div>
<div class="c" style="left:138px;top:104px;width:15px;height:11px;background:#055005"></div>
<div class="c" style="left:153px;top:104px;width:13px;height:11px;background:#480004;border-right-color:rgba(255,255,255,.35)"></div>
<div class="c" style="left:138px;top:115px;width:13px;height:12px;background:#055005"></div>
<div class="c" style="left:151px;top:115px;width:15px;height:8px;background:#22aa00;border-right-color:rgba(255,255,255,.35)"></div>
<div class="c" style="left:138px;top:127px;width:13px;height:11px;background:#22aa00;border-bottom-color:rgba(255,255,255,.35)"></div>
<div class="c" style="left:151px;top:123px;width:8px;height:8px;background:#22aa00"></div>
<div class="c" style="left:159px;top:123px;width:7px;height:6px;background:#22aa00;border-right-color:rgba(255,255,255,.35)"></div>
<div class="c" style="left:151px;top:131px;width:7px;height:7px;background:#22aa00;border-bottom-color:rgba(255,255,255,.35)"></div>
<div class="c" style="left:158px;top:131px;width:4px;height:7px;background:#22aa00;border-width:0 1px 1px 0;border-bottom-color:rgba(255,255,255,.35)"></div>
<div class="c" style="left:162px;top:129px;width:4px;height:9px;background:#b0000c;border-width:0 1px 1px 0;border-right-color:rgba(255,255,255,.35);border-bottom-color:rgba(255,255,255,.35)"></div>
<span class="t b" style="left:24.75px;top:45.00px;font-size:12.5px;transform:translate(-50%,-50%) scale(0.689,1.000)">سپاها</span>
<span class="t b" style="left:24.75px;top:87.75px;font-size:12.5px;transform:translate(-50%,-50%) scale(0.717,1.000)">سصوفي</span>
<span class="t b" style="left:24.75px;top:122.25px;font-size:12.5px;transform:translate(-50%,-50%) scale(0.700,1.000)">سشرق</span>
<span class="t b" style="left:71.75px;top:38.75px;font-size:12.5px;transform:translate(-50%,-50%) scale(0.680,1.000)">سفارس</span>
<span class="t b" style="left:112.25px;top:38.75px;font-size:12.5px;transform:translate(-50%,-50%) scale(0.642,1.000)">سباقر</span>
<span class="t b" style="left:148.25px;top:38.75px;font-size:12.5px;transform:translate(-50%,-50%) scale(0.739,1.000)">سب...</span>
<span class="t b" style="left:65.50px;top:78.00px;font-size:12.5px;transform:translate(-50%,-50%) scale(0.735,1.000)">س...</span>
<span class="t b" style="left:65.50px;top:118.75px;font-size:12.5px;transform:translate(-50%,-50%) scale(0.735,1.000)">س...</span>
</div>
<div class="s" style="left:726px;top:469px;width:155px;height:216px;border-bottom:2px solid #e3e3e3"><div class="h">شركتهاي چند رشته اي صنعتي [+]</div>
<div class="c" style="left:0px;top:20px;width:152px;height:133px;background:#22aa00;border-left-color:rgba(255,255,255,.35);border-top-color:rgba(255,255,255,.35);border-right-color:rgba(255,255,255,.35)"></div>
<div class="c" style="left:0px;top:153px;width:134px;height:60px;background:#22aa00;border-left-color:rgba(255,255,255,.35);border-bottom-color:rgba(255,255,255,.35)"></div>
<div class="c" style="left:134px;top:153px;width:18px;height:26px;background:#055005;border-right-color:rgba(255,255,255,.35)"></div>
<div class="c" style="left:134px;top:179px;width:18px;height:19px;background:#1c8000;border-right-color:rgba(255,255,255,.35)"></div>
<div class="c" style="left:134px;top:198px;width:10px;height:15px;background:#22aa00;border-bottom-color:rgba(255,255,255,.35)"></div>
<div class="c" style="left:144px;top:198px;width:8px;height:7px;background:#055005;border-right-color:rgba(255,255,255,.35)"></div>
<div class="c" style="left:144px;top:205px;width:8px;height:8px;background:#22aa00;border-right-color:rgba(255,255,255,.35);border-bottom-color:rgba(255,255,255,.35)"></div>
<span class="t" style="left:50.20px;top:109.35px;font-size:23.96px;transform:translate(-50%,-50%) scale(0.968,1.000)">2.9%</span>
<span class="t" style="left:51.08px;top:77.30px;font-size:23.68px;transform:translate(-50%,-50%) scale(0.869,0.987)">شستا</span>
<span class="t" style="left:46.53px;top:195.85px;font-size:10.42px;transform:translate(-50%,-50%) scale(1.003,1.000)">2.75%</span>
<span class="t b" style="left:46.98px;top:180.33px;font-size:10.42px;transform:translate(-50%,-50%) scale(0.835,1.215)">وغدير</span>
</div>
<div class="s" style="left:881px;top:388px;width:131px;height:107px"><div class="h">...حمل ونقل، انبارداري و ا [+]</div>
<div class="c" style="left:0px;top:20px;width:102px;height:84px;background:#22aa00;border-left-color:rgba(255,255,255,.35);border-top-color:rgba(255,255,255,.35);border-bottom-color:rgba(255,255,255,.35)"></div>
<div class="c" style="left:102px;top:20px;width:26px;height:34px;background:#480004;border-top-color:rgba(255,255,255,.35);border-right-color:rgba(255,255,255,.35)"></div>
<div class="c" style="left:102px;top:54px;width:26px;height:21px;background:#22aa00;border-right-color:rgba(255,255,255,.35)"></div>
<div class="c" style="left:102px;top:75px;width:26px;height:20px;background:#1c8000;border-right-color:rgba(255,255,255,.35)"></div>
<div class="c" style="left:102px;top:95px;width:17px;height:9px;background:#22aa00;border-bottom-color:rgba(255,255,255,.35)"></div>
<div class="c" style="left:119px;top:95px;width:9px;height:5px;background:#22aa00;border-width:0 1px 1px 0;border-right-color:rgba(255,255,255,.35)"></div>
<div class="c" style="left:119px;top:100px;width:5px;height:4px;background:#b0000c;border-width:0 1px 1px 0;border-bottom-color:rgba(255,255,255,.35)"></div>
<div class="c" style="left:124px;top:100px;width:4px;height:4px;background:#b0000c;border-width:0 1px 1px 0;border-right-color:rgba(255,255,255,.35);border-bottom-color:rgba(255,255,255,.35)"></div>
<span class="t" style="left:26.35px;top:73.75px;font-size:12.14px;transform:translate(-50%,-50%) scale(1.005,1.000)">2.71%</span>
<span class="t b" style="left:26.10px;top:56.65px;font-size:12.14px;transform:translate(-50%,-50%) scale(0.792,1.025)">حكشتي</span>
<span class="t b" style="left:113.50px;top:37.50px;font-size:12.5px;transform:translate(-50%,-50%) scale(1.000,1.000)">ح...</span>
</div>
<div class="s" style="left:1012px;top:388px;width:127px;height:86px"><div class="h">...محصولات غذايي و آشا [+]</div>
<div class="c" style="left:0px;top:20px;width:39px;height:63px;background:#1c8000;border-left-color:rgba(255,255,255,.35);border-top-color:rgba(255,255,255,.35);border-bottom-color:rgba(255,255,255,.35)"></div>
<div class="c" style="left:39px;top:20px;width:28px;height:34px;background:#480004;border-top-color:rgba(255,255,255,.35)"></div>
<div class="c" style="left:39px;top:54px;width:28px;height:29px;background:#22aa00;border-bottom-color:rgba(255,255,255,.35)"></div>
<div class="c" style="left:67px;top:20px;width:31px;height:24px;background:#480004;border-top-color:rgba(255,255,255,.35)"></div>
<div class="c" style="left:98px;top:20px;width:25px;height:24px;background:#22aa00;border-top-color:rgba(255,255,255,.35);border-right-color:rgba(255,255,255,.35)"></div>
<div class="c" style="left:67px;top:44px;width:22px;height:24px;background:#055005"></div>
<div class="c" style="left:67px;top:68px;width:22px;height:15px;background:#055005;border-bottom-color:rgba(255,255,255,.35)"></div>
<div class="c" style="left:89px;top:44px;width:13px;height:13px;background:#480004"></div>
<div class="c" style="left:89px;top:57px;width:13px;height:10px;background:#480004"></div>
<div class="c" style="left:102px;top:44px;width:12px;height:13px;background:#22aa00"></div>
<div class="c" style="left:114px;top:44px;width:9px;height:13px;background:#22aa00;border-right-color:rgba(255,255,255,.35)"></div>
<div class="c" style="left:102px;top:57px;width:11px;height:8px;background:#055005"></div>
<div class="c" style="left:113px;top:57px;width:10px;height:8px;background:#22aa00;border-right-color:rgba(255,255,255,.35)"></div>
<div class="c" style="left:89px;top:67px;width:12px;height:9px;background:#22aa00"></div>
<div class="c" style="left:89px;top:76px;width:12px;height:7px;background:#22aa00;border-bottom-color:rgba(255,255,255,.35)"></div>
<div class="c" style="left:101px;top:65px;width:9px;height:6px;background:#22aa00"></div>
<div class="c" style="left:110px;top:65px;width:7px;height:6px;background:#22aa00"></div>
<div class="c" style="left:117px;top:65px;width:6px;height:6px;background:#1c8000;border-right-color:rgba(255,255,255,.35)"></div>
<div class="c" style="left:101px;top:71px;width:9px;height:6px;background:#22aa00"></div>
<div class="c" style="left:110px;top:71px;width:4px;height:6px;background:#22aa00;border-width:0 1px 1px 0"></div>
<div class="c" style="left:114px;top:71px;width:5px;height:6px;background:#055005;border-width:0 1px 1px 0"></div>
<div class="c" style="left:119px;top:71px;width:4px;height:6px;background:#22aa00;border-width:0 1px 1px 0;border-right-color:rgba(255,255,255,.35)"></div>
<div class="c" style="left:101px;top:77px;width:9px;height:6px;background:#22aa00;border-bottom-color:rgba(255,255,255,.35)"></div>
<div class="c" style="left:110px;top:77px;width:4px;height:6px;background:#22aa00;border-width:0 1px 1px 0;border-bottom-color:rgba(255,255,255,.35)"></div>
<div class="c" style="left:114px;top:77px;width:4px;height:6px;background:#1c8000;border-width:0 1px 1px 0;border-bottom-color:rgba(255,255,255,.35)"></div>
<div class="c" style="left:118px;top:77px;width:3px;height:3px;background:#b0000c;border-width:0 1px 1px 0"></div>
<div class="c" style="left:118px;top:80px;width:3px;height:3px;background:#22aa00;border-width:0 1px 1px 0;border-bottom-color:rgba(255,255,255,.35)"></div>
<div class="c" style="left:121px;top:77px;width:2px;height:6px;background:#22aa00;border-width:0 1px 1px 0;border-right-color:rgba(255,255,255,.35);border-bottom-color:rgba(255,255,255,.35)"></div>
<span class="t" style="left:-0.62px;top:56.22px;font-size:3.12px;transform:translate(-50%,-50%) scale(1.200,1.000)">1.38%</span>
<span class="t" style="left:-1.00px;top:51.73px;font-size:3.25px;transform:translate(-50%,-50%) scale(1.009,1.019)">غكورش</span>
<span class="t b" style="left:51.00px;top:37.25px;font-size:12.5px;transform:translate(-50%,-50%) scale(0.831,1.000)">غزر</span>
<span class="t b" style="left:51.00px;top:69.00px;font-size:12.5px;transform:translate(-50%,-50%) scale(0.752,1.000)">آر...</span>
<span class="t b" style="left:80.50px;top:32.50px;font-size:12.5px;transform:translate(-50%,-50%) scale(0.740,1.000)">غنو...</span>
<span class="t b" style="left:108.75px;top:32.50px;font-size:12.5px;transform:translate(-50%,-50%) scale(0.748,1.000)">غا...</span>
<span class="t b" style="left:76.00px;top:56.25px;font-size:12.5px;transform:translate(-50%,-50%) scale(0.840,1.000)">غ...</span>
</div>
<div class="s" style="left:1139px;top:388px;width:114px;height:86px"><div class="h">...ماشين آلات و دستگاه [+]</div>
<div class="c" style="left:0px;top:20px;width:83px;height:63px;background:#1c8000;border-left-color:rgba(255,255,255,.35);border-top-color:rgba(255,255,255,.35);border-bottom-color:rgba(255,255,255,.35)"></div>
<div class="c" style="left:83px;top:20px;width:28px;height:22px;background:#22aa00;border-top-color:rgba(255,255,255,.35);border-right-color:rgba(255,255,255,.35)"></div>
<div class="c" style="left:83px;top:42px;width:20px;height:20px;background:#1c8000"></div>
<div class="c" style="left:103px;top:42px;width:8px;height:20px;background:#055005;border-right-color:rgba(255,255,255,.35)"></div>
<div class="c" style="left:83px;top:62px;width:16px;height:11px;background:#22aa00"></div>
<div class="c" style="left:99px;top:62px;width:12px;height:9px;background:#22aa00;border-right-color:rgba(255,255,255,.35)"></div>
<div class="c" style="left:83px;top:73px;width:16px;height:10px;background:#22aa00;border-bottom-color:rgba(255,255,255,.35)"></div>
<div class="c" style="left:99px;top:71px;width:9px;height:12px;background:#22aa00;border-bottom-color:rgba(255,255,255,.35)"></div>
<div class="c" style="left:108px;top:71px;width:3px;height:6px;background:#055005;border-width:0 1px 1px 0;border-right-color:rgba(255,255,255,.35)"></div>
<div class="c" style="left:108px;top:77px;width:3px;height:6px;background:#480004;border-width:0 1px 1px 0;border-right-color:rgba(255,255,255,.35);border-bottom-color:rgba(255,255,255,.35)"></div>
<span class="t" style="left:21.18px;top:61.22px;font-size:9.01px;transform:translate(-50%,-50%) scale(0.965,1.000)">1.21%</span>
<span class="t" style="left:21.15px;top:49.38px;font-size:9.15px;transform:translate(-50%,-50%) scale(0.928,0.939)">بترانس</span>
<span class="t b" style="left:95.25px;top:31.25px;font-size:12.5px;transform:translate(-50%,-50%) scale(0.706,1.000)">بپويا</span>
</div>
<div class="s" style="left:881px;top:495px;width:131px;height:102px"><div class="h">...انبوه سازي، املاك و مس [+]</div>
<div class="c" style="left:0px;top:20px;width:43px;height:79px;background:#22aa00;border-left-color:rgba(255,255,255,.35);border-top-color:rgba(255,255,255,.35);border-bottom-color:rgba(255,255,255,.35)"></div>
<div class="c" style="left:43px;top:20px;width:39px;height:79px;background:#22aa00;border-top-color:rgba(255,255,255,.35);border-bottom-color:rgba(255,255,255,.35)"></div>
<div class="c" style="left:82px;top:20px;width:25px;height:31px;background:#22aa00;border-top-color:rgba(255,255,255,.35)"></div>
<div class="c" style="left:107px;top:20px;width:21px;height:31px;background:#22aa00;border-top-color:rgba(255,255,255,.35);border-right-color:rgba(255,255,255,.35)"></div>
<div class="c" style="left:82px;top:51px;width:25px;height:22px;background:#055005"></div>
<div class="c" style="left:107px;top:51px;width:21px;height:22px;background:#22aa00;border-right-color:rgba(255,255,255,.35)"></div>
<div class="c" style="left:82px;top:73px;width:16px;height:26px;background:#22aa00;border-bottom-color:rgba(255,255,255,.35)"></div>
<div class="c" style="left:98px;top:73px;width:14px;height:14px;background:#1c8000"></div>
<div class="c" style="left:98px;top:87px;width:14px;height:12px;background:#055005;border-bottom-color:rgba(255,255,255,.35)"></div>
<div class="c" style="left:112px;top:73px;width:8px;height:10px;background:#055005"></div>
<div class="c" style="left:120px;top:73px;width:8px;height:10px;background:#480004;border-right-color:rgba(255,255,255,.35)"></div>
<div class="c" style="left:112px;top:83px;width:9px;height:9px;background:#b0000c"></div>
<div class="c" style="left:121px;top:83px;width:7px;height:8px;background:#1c8000;border-right-color:rgba(255,255,255,.35)"></div>
<div class="c" style="left:112px;top:92px;width:6px;height:7px;background:#22aa00;border-bottom-color:rgba(255,255,255,.35)"></div>
<div class="c" style="left:118px;top:92px;width:5px;height:7px;background:#22aa00;border-width:0 1px 1px 0;border-bottom-color:rgba(255,255,255,.35)"></div>
<div class="c" style="left:123px;top:91px;width:5px;height:4px;background:#b0000c;border-width:0 1px 1px 0;border-right-color:rgba(255,255,255,.35)"></div>
<div class="c" style="left:123px;top:95px;width:5px;height:4px;background:#22aa00;border-width:0 1px 1px 0;border-right-color:rgba(255,255,255,.35);border-bottom-color:rgba(255,255,255,.35)"></div>
<span class="t" style="left:1.75px;top:65.18px;font-size:5.18px;transform:translate(-50%,-50%) scale(0.984,1.000)">2.98%</span>
<span class="t" style="left:1.73px;top:59.45px;font-size:5.39px;transform:translate(-50%,-50%) scale(1.350,0.750)">ثباغ</span>
<span class="t" style="left:43.03px;top:65.18px;font-size:5.18px;transform:translate(-50%,-50%) scale(0.959,1.000)">2.97%</span>
<span class="t" style="left:42.73px;top:59.45px;font-size:5.39px;transform:translate(-50%,-50%) scale(0.903,0.750)">كرمان</span>
<span class="t b" style="left:92.75px;top:36.00px;font-size:12.5px;transform:translate(-50%,-50%) scale(0.674,1.000)">ثم...</span>
</div>
<div class="s" style="left:881px;top:597px;width:131px;height:88px;border-bottom:2px solid #e3e3e3"><div class="h">...عرضه برق، گاز، بخاروآ [+]</div>
<div class="c" style="left:0px;top:20px;width:63px;height:65px;background:#22aa00;border-left-color:rgba(255,255,255,.35);border-top-color:rgba(255,255,255,.35);border-bottom-color:rgba(255,255,255,.35)"></div>
<div class="c" style="left:63px;top:20px;width:41px;height:42px;background:#1c8000;border-top-color:rgba(255,255,255,.35)"></div>
<div class="c" style="left:63px;top:62px;width:41px;height:23px;background:#1c8000;border-bottom-color:rgba(255,255,255,.35)"></div>
<div class="c" style="left:104px;top:20px;width:24px;height:30px;background:#22aa00;border-top-color:rgba(255,255,255,.35);border-right-color:rgba(255,255,255,.35)"></div>
<div class="c" style="left:104px;top:50px;width:13px;height:19px;background:#1c8000"></div>
<div class="c" style="left:117px;top:50px;width:11px;height:19px;background:#480004;border-right-color:rgba(255,255,255,.35)"></div>
<div class="c" style="left:104px;top:69px;width:11px;height:16px;background:#22aa00;border-bottom-color:rgba(255,255,255,.35)"></div>
<div class="c" style="left:115px;top:69px;width:13px;height:7px;background:#22aa00;border-right-color:rgba(255,255,255,.35)"></div>
<div class="c" style="left:115px;top:76px;width:6px;height:9px;background:#1c8000;border-bottom-color:rgba(255,255,255,.35)"></div>
<div class="c" style="left:121px;top:76px;width:3px;height:4px;background:#480004;border-width:0 1px 1px 0"></div>
<div class="c" style="left:124px;top:76px;width:4px;height:4px;background:#22aa00;border-width:0 1px 1px 0;border-right-color:rgba(255,255,255,.35)"></div>
<div class="c" style="left:121px;top:80px;width:3px;height:5px;background:#055005;border-width:0 1px 1px 0;border-bottom-color:rgba(255,255,255,.35)"></div>
<div class="c" style="left:124px;top:80px;width:4px;height:5px;background:#b0000c;border-width:0 1px 1px 0;border-right-color:rgba(255,255,255,.35);border-bottom-color:rgba(255,255,255,.35)"></div>
<span class="t" style="left:11.95px;top:59.70px;font-size:6.57px;transform:translate(-50%,-50%) scale(0.861,1.000)">2.88%</span>
<span class="t" style="left:11.23px;top:51.25px;font-size:6.57px;transform:translate(-50%,-50%) scale(1.092,0.750)">وبينا</span>
<span class="t b" style="left:81.75px;top:41.50px;font-size:12.5px;transform:translate(-50%,-50%) scale(0.715,1.000)">بجهرم</span>
<span class="t b" style="left:81.75px;top:74.00px;font-size:12.5px;transform:translate(-50%,-50%) scale(0.654,1.000)">شمس</span>
<span class="t b" style="left:114.25px;top:35.25px;font-size:12.5px;transform:translate(-50%,-50%) scale(0.643,1.000)">بم...</span>
</div>
<div class="s" style="left:1012px;top:474px;width:86px;height:84px"><div class="h">...زراعت و خد [+]</div>
<div class="c" style="left:0px;top:20px;width:42px;height:41px;background:#22aa00;border-left-color:rgba(255,255,255,.35);border-top-color:rgba(255,255,255,.35)"></div>
<div class="c" style="left:0px;top:61px;width:42px;height:20px;background:#22aa00;border-left-color:rgba(255,255,255,.35);border-bottom-color:rgba(255,255,255,.35)"></div>
<div class="c" style="left:42px;top:20px;width:24px;height:22px;background:#22aa00;border-top-color:rgba(255,255,255,.35)"></div>
<div class="c" style="left:66px;top:20px;width:17px;height:22px;background:#480004;border-top-color:rgba(255,255,255,.35);border-right-color:rgba(255,255,255,.35)"></div>
<div class="c" style="left:42px;top:42px;width:14px;height:24px;background:#22aa00"></div>
<div class="c" style="left:56px;top:42px;width:14px;height:14px;background:#22aa00"></div>
<div class="c" style="left:70px;top:42px;width:13px;height:14px;background:#22aa00;border-right-color:rgba(255,255,255,.35)"></div>
<div class="c" style="left:56px;top:56px;width:14px;height:14px;background:#22aa00"></div>
<div class="c" style="left:70px;top:56px;width:13px;height:10px;background:#22aa00;border-right-color:rgba(255,255,255,.35)"></div>
<div class="c" style="left:42px;top:66px;width:14px;height:15px;background:#22aa00;border-bottom-color:rgba(255,255,255,.35)"></div>
<div class="c" style="left:56px;top:70px;width:14px;height:11px;background:#1c8000;border-bottom-color:rgba(255,255,255,.35)"></div>
<div class="c" style="left:70px;top:66px;width:13px;height:8px;background:#1c8000;border-right-color:rgba(255,255,255,.35)"></div>
<div class="c" style="left:70px;top:74px;width:9px;height:7px;background:#22aa00;border-bottom-color:rgba(255,255,255,.35)"></div>
<div class="c" style="left:79px;top:74px;width:4px;height:7px;background:#22aa00;border-width:0 1px 1px 0;border-right-color:rgba(255,255,255,.35);border-bottom-color:rgba(255,255,255,.35)"></div>
<span class="t b" style="left:19.25px;top:40.75px;font-size:12.5px;transform:translate(-50%,-50%) scale(0.683,1.000)">زفكا</span>
</div>
<div class="s" style="left:1012px;top:558px;width:86px;height:65px"><div class="h">...ساخت مح [+]</div>
<div class="c" style="left:0px;top:20px;width:49px;height:41px;background:#1c8000;border-left-color:rgba(255,255,255,.35);border-top-color:rgba(255,255,255,.35);border-bottom-color:rgba(255,255,255,.35)"></div>
<div class="c" style="left:49px;top:20px;width:34px;height:24px;background:#22aa00;border-top-color:rgba(255,255,255,.35);border-right-color:rgba(255,255,255,.35)"></div>
<div class="c" style="left:49px;top:44px;width:22px;height:17px;background:#22aa00;border-bottom-color:rgba(255,255,255,.35)"></div>
<div class="c" style="left:71px;top:44px;width:12px;height:7px;background:#22aa00;border-right-color:rgba(255,255,255,.35)"></div>
<div class="c" style="left:71px;top:51px;width:7px;height:10px;background:#b0000c;border-bottom-color:rgba(255,255,255,.35)"></div>
<div class="c" style="left:78px;top:51px;width:5px;height:10px;background:#22aa00;border-width:0 1px 1px 0;border-right-color:rgba(255,255,255,.35);border-bottom-color:rgba(255,255,255,.35)"></div>
<span class="t" style="left:5.33px;top:46.65px;font-size:4.86px;transform:translate(-50%,-50%) scale(0.799,1.000)">1.06%</span>
<span class="t" style="left:5.45px;top:39.52px;font-size:4.65px;transform:translate(-50%,-50%) scale(1.087,1.003)">خبه</span>
<span class="t b" style="left:64.25px;top:32.50px;font-size:12.5px;transform:translate(-50%,-50%) scale(0.636,1.000)">فاذر</span>
</div>
<div class="s" style="left:1012px;top:623px;width:86px;height:62px;border-bottom:2px solid #e3e3e3"><div class="h">...فعاليتهاي كم [+]</div>
<div class="c" style="left:0px;top:20px;width:40px;height:39px;background:#22aa00;border-left-color:rgba(255,255,255,.35);border-top-color:rgba(255,255,255,.35);border-bottom-color:rgba(255,255,255,.35)"></div>
<div class="c" style="left:40px;top:20px;width:28px;height:23px;background:#22aa00;border-top-color:rgba(255,255,255,.35)"></div>
<div class="c" style="left:40px;top:43px;width:28px;height:16px;background:#22aa00;border-bottom-color:rgba(255,255,255,.35)"></div>
<div class="c" style="left:68px;top:20px;width:15px;height:26px;background:#22aa00;border-top-color:rgba(255,255,255,.35);border-right-color:rgba(255,255,255,.35)"></div>
<div class="c" style="left:68px;top:46px;width:7px;height:13px;background:#22aa00;border-bottom-color:rgba(255,255,255,.35)"></div>
<div class="c" style="left:75px;top:46px;width:8px;height:5px;background:#055005;border-width:0 1px 1px 0;border-right-color:rgba(255,255,255,.35)"></div>
<div class="c" style="left:75px;top:51px;width:4px;height:8px;background:#480004;border-width:0 1px 1px 0;border-bottom-color:rgba(255,255,255,.35)"></div>
<div class="c" style="left:79px;top:51px;width:4px;height:8px;background:#22aa00;border-width:0 1px 1px 0;border-right-color:rgba(255,255,255,.35);border-bottom-color:rgba(255,255,255,.35)"></div>
<span class="t b" style="left:18.50px;top:40.00px;font-size:12.5px;transform:translate(-50%,-50%) scale(0.803,1.000)">انرژي</span>
<span class="t b" style="left:52.50px;top:32.00px;font-size:12.5px;transform:translate(-50%,-50%) scale(0.704,1.000)">فرا...</span>
</div>
<div class="s" style="left:1098px;top:474px;width:71px;height:66px"><div class="h">... رايانه و [+]</div>
<div class="c" style="left:0px;top:20px;width:30px;height:42px;background:#b0000c;border-left-color:rgba(255,255,255,.35);border-top-color:rgba(255,255,255,.35);border-bottom-color:rgba(255,255,255,.35)"></div>
<div class="c" style="left:30px;top:20px;width:24px;height:28px;background:#1c8000;border-top-color:rgba(255,255,255,.35)"></div>
<div class="c" style="left:54px;top:20px;width:14px;height:28px;background:#22aa00;border-top-color:rgba(255,255,255,.35);border-right-color:rgba(255,255,255,.35)"></div>
<div class="c" style="left:30px;top:48px;width:9px;height:14px;background:#480004;border-bottom-color:rgba(255,255,255,.35)"></div>
<div class="c" style="left:39px;top:48px;width:13px;height:8px;background:#22aa00"></div>
<div class="c" style="left:39px;top:56px;width:13px;height:6px;background:#480004;border-bottom-color:rgba(255,255,255,.35)"></div>
<div class="c" style="left:52px;top:48px;width:9px;height:8px;background:#1c8000"></div>
<div class="c" style="left:52px;top:56px;width:9px;height:6px;background:#055005;border-bottom-color:rgba(255,255,255,.35)"></div>
<div class="c" style="left:61px;top:48px;width:7px;height:3px;background:#480004;border-width:0 1px 1px 0;border-right-color:rgba(255,255,255,.35)"></div>
<div class="c" style="left:61px;top:51px;width:4px;height:5px;background:#22aa00;border-width:0 1px 1px 0"></div>
<div class="c" style="left:65px;top:51px;width:3px;height:5px;background:#480004;border-width:0 1px 1px 0;border-right-color:rgba(255,255,255,.35)"></div>
<div class="c" style="left:61px;top:56px;width:4px;height:6px;background:#22aa00;border-width:0 1px 1px 0;border-bottom-color:rgba(255,255,255,.35)"></div>
<div class="c" style="left:65px;top:56px;width:3px;height:6px;background:#b0000c;border-width:0 1px 1px 0;border-right-color:rgba(255,255,255,.35);border-bottom-color:rgba(255,255,255,.35)"></div>
<span class="t b" style="left:13.50px;top:41.50px;font-size:12.5px;transform:translate(-50%,-50%) scale(0.783,1.000)">ريويا</span>
</div>
<div class="s" style="left:1169px;top:474px;width:44px;height:66px"><div class="h">...سا [+]</div>
<div class="c" style="left:0px;top:20px;width:29px;height:26px;background:#22aa00;border-left-color:rgba(255,255,255,.35);border-top-color:rgba(255,255,255,.35)"></div>
<div class="c" style="left:29px;top:20px;width:13px;height:26px;background:#22aa00;border-top-color:rgba(255,255,255,.35);border-right-color:rgba(255,255,255,.35)"></div>
<div class="c" style="left:0px;top:46px;width:16px;height:16px;background:#1c8000;border-left-color:rgba(255,255,255,.35);border-bottom-color:rgba(255,255,255,.35)"></div>
<div class="c" style="left:16px;top:46px;width:9px;height:16px;background:#1c8000;border-bottom-color:rgba(255,255,255,.35)"></div>
<div class="c" style="left:25px;top:46px;width:11px;height:9px;background:#22aa00"></div>
<div class="c" style="left:36px;top:46px;width:6px;height:9px;background:#22aa00;border-right-color:rgba(255,255,255,.35)"></div>
<div class="c" style="left:25px;top:55px;width:7px;height:7px;background:#480004;border-bottom-color:rgba(255,255,255,.35)"></div>
<div class="c" style="left:32px;top:55px;width:7px;height:7px;background:#1c8000;border-bottom-color:rgba(255,255,255,.35)"></div>
<div class="c" style="left:39px;top:55px;width:3px;height:7px;background:#22aa00;border-width:0 1px 1px 0;border-right-color:rgba(255,255,255,.35);border-bottom-color:rgba(255,255,255,.35)"></div>
<span class="t b" style="left:12.75px;top:33.25px;font-size:12.5px;transform:translate(-50%,-50%) scale(0.756,1.000)">كر...</span>
</div>
<div class="s" style="left:1213px;top:474px;width:40px;height:66px"><div class="h">...ا [+]</div>
<div class="c" style="left:1px;top:20px;width:21px;height:30px;background:#1c8000;border-left-color:rgba(255,255,255,.35);border-top-color:rgba(255,255,255,.35)"></div>
<div class="c" style="left:22px;top:20px;width:15px;height:30px;background:#22aa00;border-top-color:rgba(255,255,255,.35);border-right-color:rgba(255,255,255,.35)"></div>
<div class="c" style="left:1px;top:50px;width:34px;height:12px;background:#1c8000;border-left-color:rgba(255,255,255,.35);border-bottom-color:rgba(255,255,255,.35)"></div>
<div class="c" style="left:35px;top:50px;width:2px;height:12px;background:#22aa00;border-width:0 1px 1px 0;border-right-color:rgba(255,255,255,.35);border-bottom-color:rgba(255,255,255,.35)"></div>
<span class="t b" style="left:10.00px;top:35.50px;font-size:12.5px;transform:translate(-50%,-50%) scale(0.669,1.000)">ه...</span>
</div>
<div class="s" style="left:1098px;top:540px;width:41px;height:49px"><div class="h">... [+]</div>
<div class="c" style="left:0px;top:20px;width:15px;height:26px;background:#480004;border-left-color:rgba(255,255,255,.35);border-top-color:rgba(255,255,255,.35);border-bottom-color:rgba(255,255,255,.35)"></div>
<div class="c" style="left:15px;top:20px;width:13px;height:10px;background:#b0000c;border-top-color:rgba(255,255,255,.35)"></div>
<div class="c" style="left:28px;top:20px;width:10px;height:10px;background:#80000a;border-top-color:rgba(255,255,255,.35);border-right-color:rgba(255,255,255,.35)"></div>
<div class="c" style="left:15px;top:30px;width:9px;height:10px;background:#055005"></div>
<div class="c" style="left:24px;top:30px;width:8px;height:10px;background:#480004"></div>
<div class="c" style="left:32px;top:30px;width:6px;height:7px;background:#1c8000;border-right-color:rgba(255,255,255,.35)"></div>
<div class="c" style="left:15px;top:40px;width:9px;height:6px;background:#1c8000;border-bottom-color:rgba(255,255,255,.35)"></div>
<div class="c" style="left:24px;top:40px;width:6px;height:6px;background:#22aa00;border-bottom-color:rgba(255,255,255,.35)"></div>
<div class="c" style="left:30px;top:37px;width:5px;height:6px;background:#22aa00;border-width:0 1px 1px 0"></div>
<div class="c" style="left:35px;top:37px;width:3px;height:5px;background:#22aa00;border-width:0 1px 1px 0;border-right-color:rgba(255,255,255,.35)"></div>
<div class="c" style="left:30px;top:43px;width:4px;height:3px;background:#22aa00;border-width:0 1px 1px 0;border-bottom-color:rgba(255,255,255,.35)"></div>
<div class="c" style="left:34px;top:42px;width:4px;height:4px;background:#b0000c;border-width:0 1px 1px 0;border-right-color:rgba(255,255,255,.35);border-bottom-color:rgba(255,255,255,.35)"></div>
</div>
<div class="s" style="left:1139px;top:540px;width:39px;height:49px"><div class="h">...ا [+]</div>
<div class="c" style="left:0px;top:20px;width:35px;height:26px;background:#055005;border-left-color:rgba(255,255,255,.35);border-top-color:rgba(255,255,255,.35);border-bottom-color:rgba(255,255,255,.35)"></div>
<div class="c" style="left:35px;top:20px;width:2px;height:26px;background:#22aa00;border-width:0 1px 1px 0;border-top-color:rgba(255,255,255,.35);border-right-color:rgba(255,255,255,.35);border-bottom-color:rgba(255,255,255,.35)"></div>
<span class="t b" style="left:16.00px;top:33.50px;font-size:12.5px;transform:translate(-50%,-50%) scale(0.729,1.000)">كرين</span>
</div>
<div class="s" style="left:1178px;top:540px;width:37px;height:49px"><div class="h">... [+]</div>
<div class="c" style="left:0px;top:20px;width:21px;height:13px;background:#1c8000;border-left-color:rgba(255,255,255,.35);border-top-color:rgba(255,255,255,.35)"></div>
<div class="c" style="left:0px;top:33px;width:21px;height:13px;background:#22aa00;border-left-color:rgba(255,255,255,.35);border-bottom-color:rgba(255,255,255,.35)"></div>
<div class="c" style="left:21px;top:20px;width:14px;height:12px;background:#1c8000;border-top-color:rgba(255,255,255,.35);border-right-color:rgba(255,255,255,.35)"></div>
<div class="c" style="left:21px;top:32px;width:14px;height:9px;background:#1c8000;border-right-color:rgba(255,255,255,.35)"></div>
<div class="c" style="left:21px;top:41px;width:9px;height:5px;background:#055005;border-width:0 1px 1px 0;border-bottom-color:rgba(255,255,255,.35)"></div>
<div class="c" style="left:30px;top:41px;width:5px;height:5px;background:#22aa00;border-width:0 1px 1px 0;border-right-color:rgba(255,255,255,.35);border-bottom-color:rgba(255,255,255,.35)"></div>
</div>
<div class="s" style="left:1215px;top:540px;width:38px;height:49px"><div class="h">...ا [+]</div>
<div class="c" style="left:0px;top:20px;width:35px;height:26px;background:#22aa00;border-left-color:rgba(255,255,255,.35);border-top-color:rgba(255,255,255,.35);border-right-color:rgba(255,255,255,.35);border-bottom-color:rgba(255,255,255,.35)"></div>
<span class="t b" style="left:16.00px;top:33.50px;font-size:12.5px;transform:translate(-50%,-50%) scale(0.726,1.000)">حفاري</span>
</div>
<div class="s" style="left:1098px;top:589px;width:41px;height:50px"><div class="h">...سم [+]</div>
<div class="c" style="left:0px;top:21px;width:36px;height:26px;background:#480004;border-left-color:rgba(255,255,255,.35);border-top-color:rgba(255,255,255,.35);border-bottom-color:rgba(255,255,255,.35)"></div>
<div class="c" style="left:36px;top:21px;width:2px;height:13px;background:#055005;border-width:0 1px 1px 0;border-top-color:rgba(255,255,255,.35);border-right-color:rgba(255,255,255,.35)"></div>
<div class="c" style="left:36px;top:34px;width:2px;height:13px;background:#22aa00;border-width:0 1px 1px 0;border-right-color:rgba(255,255,255,.35);border-bottom-color:rgba(255,255,255,.35)"></div>
<span class="t b" style="left:16.50px;top:34.50px;font-size:12.5px;transform:translate(-50%,-50%) scale(0.751,1.000)">چكاپا</span>
</div>
<div class="s" style="left:1139px;top:589px;width:33px;height:53px"><div class="h">... [+]</div>
<div class="c" style="left:0px;top:21px;width:16px;height:23px;background:#055005;border-left-color:rgba(255,255,255,.35);border-top-color:rgba(255,255,255,.35)"></div>
<div class="c" style="left:16px;top:21px;width:15px;height:23px;background:#22aa00;border-top-color:rgba(255,255,255,.35);border-right-color:rgba(255,255,255,.35)"></div>
<div class="c" style="left:0px;top:44px;width:10px;height:6px;background:#1c8000;border-left-color:rgba(255,255,255,.35);border-bottom-color:rgba(255,255,255,.35)"></div>
<div class="c" style="left:10px;top:44px;width:9px;height:6px;background:#480004;border-bottom-color:rgba(255,255,255,.35)"></div>
<div class="c" style="left:19px;top:44px;width:5px;height:6px;background:#055005;border-width:0 1px 1px 0;border-bottom-color:rgba(255,255,255,.35)"></div>
<div class="c" style="left:24px;top:44px;width:3px;height:6px;background:#22aa00;border-width:0 1px 1px 0;border-bottom-color:rgba(255,255,255,.35)"></div>
<div class="c" style="left:27px;top:44px;width:4px;height:6px;background:#22aa00;border-width:0 1px 1px 0;border-right-color:rgba(255,255,255,.35);border-bottom-color:rgba(255,255,255,.35)"></div>
</div>
<div class="s" style="left:1172px;top:589px;width:41px;height:28px"><div class="h">... [+]</div>
<div class="c" style="left:0px;top:21px;width:38px;height:4px;background:#1c8000;border-width:0 1px 1px 0;border-left-color:rgba(255,255,255,.35);border-top-color:rgba(255,255,255,.35);border-right-color:rgba(255,255,255,.35);border-bottom-color:rgba(255,255,255,.35)"></div>
</div>
<div class="s" style="left:1213px;top:589px;width:40px;height:28px"><div class="h">... [+]</div>
<div class="c" style="left:1px;top:21px;width:17px;height:4px;background:#22aa00;border-width:0 1px 1px 0;border-left-color:rgba(255,255,255,.35);border-top-color:rgba(255,255,255,.35);border-bottom-color:rgba(255,255,255,.35)"></div>
<div class="c" style="left:18px;top:21px;width:8px;height:4px;background:#22aa00;border-width:0 1px 1px 0;border-top-color:rgba(255,255,255,.35);border-bottom-color:rgba(255,255,255,.35)"></div>
<div class="c" style="left:26px;top:21px;width:6px;height:4px;background:#22aa00;border-width:0 1px 1px 0;border-top-color:rgba(255,255,255,.35);border-bottom-color:rgba(255,255,255,.35)"></div>
<div class="c" style="left:32px;top:21px;width:5px;height:3px;background:#22aa00;border-width:0 1px 1px 0;border-top-color:rgba(255,255,255,.35);border-right-color:rgba(255,255,255,.35)"></div>
</div>
<div class="s" style="left:1172px;top:617px;width:30px;height:35px"><div class="h">...+]</div>
<div class="c" style="left:0px;top:20px;width:26px;height:12px;background:#22aa00;border-left-color:rgba(255,255,255,.35);border-top-color:rgba(255,255,255,.35);border-bottom-color:rgba(255,255,255,.35)"></div>
<div class="c" style="left:26px;top:20px;width:1px;height:12px;background:#22aa00;border-width:0 1px 1px 0;border-top-color:rgba(255,255,255,.35);border-right-color:rgba(255,255,255,.35);border-bottom-color:rgba(255,255,255,.35)"></div>
</div>
<div class="s" style="left:1202px;top:617px;width:26px;height:35px"><div class="h">...]</div>
<div class="c" style="left:0px;top:20px;width:17px;height:12px;background:#1c8000;border-left-color:rgba(255,255,255,.35);border-top-color:rgba(255,255,255,.35);border-bottom-color:rgba(255,255,255,.35)"></div>
<div class="c" style="left:17px;top:20px;width:6px;height:12px;background:#1c8000;border-top-color:rgba(255,255,255,.35);border-right-color:rgba(255,255,255,.35);border-bottom-color:rgba(255,255,255,.35)"></div>
</div>
<div class="s" style="left:1228px;top:617px;width:25px;height:35px"><div class="h">...]</div>
<div class="c" style="left:1px;top:20px;width:8px;height:7px;background:#480004;border-left-color:rgba(255,255,255,.35);border-top-color:rgba(255,255,255,.35)"></div>
<div class="c" style="left:1px;top:27px;width:8px;height:5px;background:#b0000c;border-width:0 1px 1px 0;border-left-color:rgba(255,255,255,.35);border-bottom-color:rgba(255,255,255,.35)"></div>
<div class="c" style="left:9px;top:20px;width:6px;height:7px;background:#22aa00;border-top-color:rgba(255,255,255,.35)"></div>
<div class="c" style="left:9px;top:27px;width:6px;height:5px;background:#1c8000;border-width:0 1px 1px 0;border-bottom-color:rgba(255,255,255,.35)"></div>
<div class="c" style="left:15px;top:20px;width:7px;height:5px;background:#22aa00;border-width:0 1px 1px 0;border-top-color:rgba(255,255,255,.35);border-right-color:rgba(255,255,255,.35)"></div>
<div class="c" style="left:15px;top:25px;width:4px;height:7px;background:#22aa00;border-width:0 1px 1px 0;border-bottom-color:rgba(255,255,255,.35)"></div>
<div class="c" style="left:19px;top:25px;width:3px;height:7px;background:#480004;border-width:0 1px 1px 0;border-right-color:rgba(255,255,255,.35);border-bottom-color:rgba(255,255,255,.35)"></div>
</div>
<div class="s" style="left:1098px;top:639px;width:41px;height:46px;border-bottom:2px solid #e3e3e3"><div class="h">...ق [+]</div>
<div class="c" style="left:0px;top:20px;width:12px;height:23px;background:#22aa00;border-left-color:rgba(255,255,255,.35);border-top-color:rgba(255,255,255,.35);border-bottom-color:rgba(255,255,255,.35)"></div>
<div class="c" style="left:12px;top:20px;width:11px;height:23px;background:#1c8000;border-top-color:rgba(255,255,255,.35);border-bottom-color:rgba(255,255,255,.35)"></div>
<div class="c" style="left:23px;top:20px;width:8px;height:13px;background:#1c8000;border-top-color:rgba(255,255,255,.35)"></div>
<div class="c" style="left:31px;top:20px;width:7px;height:13px;background:#22aa00;border-top-color:rgba(255,255,255,.35);border-right-color:rgba(255,255,255,.35)"></div>
<div class="c" style="left:23px;top:33px;width:7px;height:10px;background:#22aa00;border-bottom-color:rgba(255,255,255,.35)"></div>
<div class="c" style="left:30px;top:33px;width:8px;height:10px;background:#22aa00;border-right-color:rgba(255,255,255,.35);border-bottom-color:rgba(255,255,255,.35)"></div>
</div>
<div class="s" style="left:1139px;top:642px;width:33px;height:43px;border-bottom:2px solid #e3e3e3"><div class="h">... [+]</div>
<div class="c" style="left:0px;top:21px;width:20px;height:19px;background:#055005;border-left-color:rgba(255,255,255,.35);border-top-color:rgba(255,255,255,.35);border-bottom-color:rgba(255,255,255,.35)"></div>
<div class="c" style="left:20px;top:21px;width:10px;height:19px;background:#80000a;border-top-color:rgba(255,255,255,.35);border-right-color:rgba(255,255,255,.35);border-bottom-color:rgba(255,255,255,.35)"></div>
</div>
<div class="s" style="left:1172px;top:652px;width:30px;height:33px;border-bottom:2px solid #e3e3e3"><div class="h">...+]</div>
<div class="c" style="left:0px;top:20px;width:27px;height:10px;background:#22aa00;border-left-color:rgba(255,255,255,.35);border-top-color:rgba(255,255,255,.35);border-right-color:rgba(255,255,255,.35);border-bottom-color:rgba(255,255,255,.35)"></div>
</div>
<div class="s" style="left:1202px;top:652px;width:25px;height:33px;border-bottom:2px solid #e3e3e3"><div class="h">...]</div>
<div class="c" style="left:0px;top:20px;width:13px;height:10px;background:#22aa00;border-left-color:rgba(255,255,255,.35);border-top-color:rgba(255,255,255,.35);border-bottom-color:rgba(255,255,255,.35)"></div>
<div class="c" style="left:13px;top:20px;width:8px;height:10px;background:#b0000c;border-top-color:rgba(255,255,255,.35);border-right-color:rgba(255,255,255,.35);border-bottom-color:rgba(255,255,255,.35)"></div>
</div>
<div class="s" style="left:1227px;top:652px;width:26px;height:25px"><div class="h">...]</div>
<div class="c" style="left:0px;top:20px;width:21px;height:2px;background:#1c8000;border-width:0 1px 1px 0;border-left-color:rgba(255,255,255,.35);border-top-color:rgba(255,255,255,.35);border-right-color:rgba(255,255,255,.35);border-bottom-color:rgba(255,255,255,.35)"></div>
</div>
<div class="s" style="left:1227px;top:677px;width:11px;height:8px;border-bottom:2px solid #e3e3e3">
</div>
<div class="s" style="left:1238px;top:677px;width:6px;height:8px;border-bottom:2px solid #e3e3e3">
</div>
<div class="s" style="left:1244px;top:677px;width:5px;height:8px;border-bottom:2px solid #e3e3e3">
</div>
<div class="s" style="left:1249px;top:677px;width:4px;height:8px;border-bottom:2px solid #e3e3e3">
</div>
</body></html>
